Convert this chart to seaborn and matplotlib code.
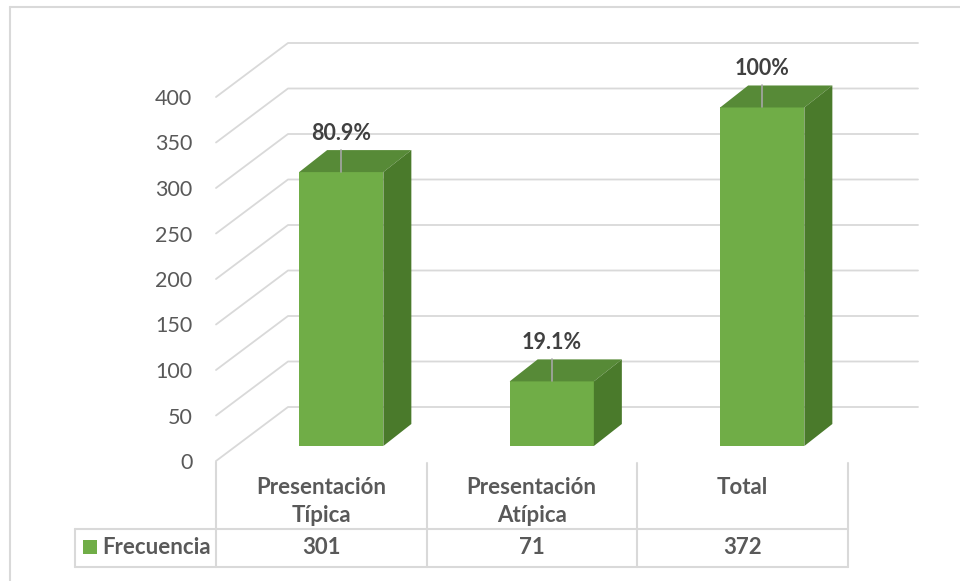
import matplotlib
matplotlib.use("Agg")
import matplotlib.pyplot as plt
import matplotlib.transforms as mtransforms
from matplotlib.patches import Polygon, Rectangle
from matplotlib.lines import Line2D
import seaborn as sns

# ---- data ----
categories = ["Presentación\nTípica", "Presentación\nAtípica", "Total"]
frecuencia = [301, 71, 372]
porcentajes = ["80.9%", "19.1%", "100%"]
series_name = "Frecuencia"
yticks = [0, 50, 100, 150, 200, 250, 300, 350, 400]

# ---- style ----
sns.set_theme(style="white")
plt.rcParams["font.family"] = ["Lato", "DejaVu Sans"]

FRONT = "#70AD47"
TOP = "#578A37"
SIDE = "#4A7A2B"
GRID = "#D9D9D9"
TXT = "#595959"
LBL = "#404040"

W, H = 960, 581
fig = plt.figure(figsize=(W / 100, H / 100), dpi=100)
fig.patch.set_facecolor("white")

# axes: front plane, x -0.5..2.5 -> px 216..847.5 ; y 0..400 -> px 461..97
x0, x1 = 216, 847.5
y0, y1 = 461, 97
ax = fig.add_axes([x0 / W, (H - y0) / H, (x1 - x0) / W, (y0 - y1) / H])
ax.set_xlim(-0.5, 2.5)
ax.set_ylim(0, 400)
for s in ax.spines.values():
    s.set_visible(False)
ax.set_facecolor("none")

# pixel transform (top-left origin)
PX = mtransforms.Affine2D().scale(1, -1).translate(0, H)

def dpt(x, y):
    """data -> top-left pixel coords"""
    dx, dy = ax.transData.transform((x, y))
    return dx, H - dy

# depth geometry (pixels)
DX, DY = 72, 54          # full depth of the walls
F0X, F0Y = 20, 15        # bar front face offset
BDX, BDY = 28, 22        # bar depth

# ---- gridlines (side wall + back wall) ----
for v in yticks:
    fx, fy = dpt(-0.5, v)
    line = Line2D([fx, fx + DX, 918], [fy, fy - DY, fy - DY], color=GRID,
                  lw=1.3, transform=PX, zorder=0)
    fig.add_artist(line)

# ---- bars (front faces via seaborn) ----
sns.barplot(x=categories, y=frecuencia, color=FRONT, width=0.4, saturation=1,
            ax=ax, zorder=3, linewidth=0)
off = mtransforms.Affine2D().translate(F0X, F0Y)
bars = list(ax.patches)
for p, lab in zip(bars, porcentajes):
    p.set_transform(ax.transData + off)
    p.set_clip_on(False)
    xl, w, h = p.get_x(), p.get_width(), p.get_height()
    lx, ty = dpt(xl, h)
    rx, by = dpt(xl + w, 0)
    lx += F0X; rx += F0X; ty -= F0Y; by -= F0Y
    top = Polygon([[lx, ty], [rx, ty], [rx + BDX, ty - BDY], [lx + BDX, ty - BDY]],
                  closed=True, facecolor=TOP, edgecolor="none", transform=PX, zorder=3)
    side = Polygon([[rx, by], [rx, ty], [rx + BDX, ty - BDY], [rx + BDX, by - BDY]],
                   closed=True, facecolor=SIDE, edgecolor="none", transform=PX, zorder=3)
    fig.add_artist(top)
    fig.add_artist(side)
    cx = (lx + rx) / 2
    fig.add_artist(Line2D([cx, cx], [ty, ty - BDY], color="#A6A6A6", lw=1.2,
                          transform=PX, zorder=4))
    fig.text(cx, ty - BDY - 17, lab, transform=PX, ha="center", va="center",
             fontsize=15.5, fontweight="bold", color=LBL, zorder=5)

# ---- y tick labels ----
ax.set_yticks(yticks)
ax.set_yticklabels([str(v) for v in yticks], fontsize=15.5, color=TXT)
ax.tick_params(axis="y", length=0, pad=17)
ax.tick_params(axis="x", length=0, labelbottom=False)
ax.set_xlabel("")
ax.set_ylabel("")

# ---- data table ----
def pline(xs, ys):
    fig.add_artist(Line2D(xs, ys, color=GRID, lw=1.5, transform=PX, zorder=1))

bounds = [dpt(b, 0)[0] for b in (-0.5, 0.5, 1.5, 2.5)]
pline([bounds[0], bounds[0]], [462, 567])
for b in bounds[1:]:
    pline([b, b], [463, 567])
pline([75, bounds[-1]], [529, 529])
pline([75, bounds[-1]], [567, 567])
pline([75, 75], [529, 567])

for i, (cat, val) in enumerate(zip(categories, frecuencia)):
    cx = dpt(i, 0)[0]
    lines = cat.split("\n")
    for j, t in enumerate(lines):
        fig.text(cx, 487 + 29 * j, t, transform=PX, ha="center", va="center",
                 fontsize=16, fontweight="bold", color=TXT)
    fig.text(cx, 548, str(val), transform=PX, ha="center", va="center",
             fontsize=16, fontweight="bold", color=TXT)

fig.add_artist(Rectangle((83, 540), 14, 14, facecolor=FRONT, edgecolor="none",
                         transform=PX))
fig.text(102, 548, series_name, transform=PX, ha="left", va="center",
         fontsize=16, fontweight="bold", color=TXT)

# ---- chart border ----
fig.add_artist(Line2D([10, 10], [7, H], color=GRID, lw=1.5, transform=PX))
fig.add_artist(Line2D([10, W], [7, 7], color=GRID, lw=1.5, transform=PX))

fig.savefig("out.png", dpi=100)
